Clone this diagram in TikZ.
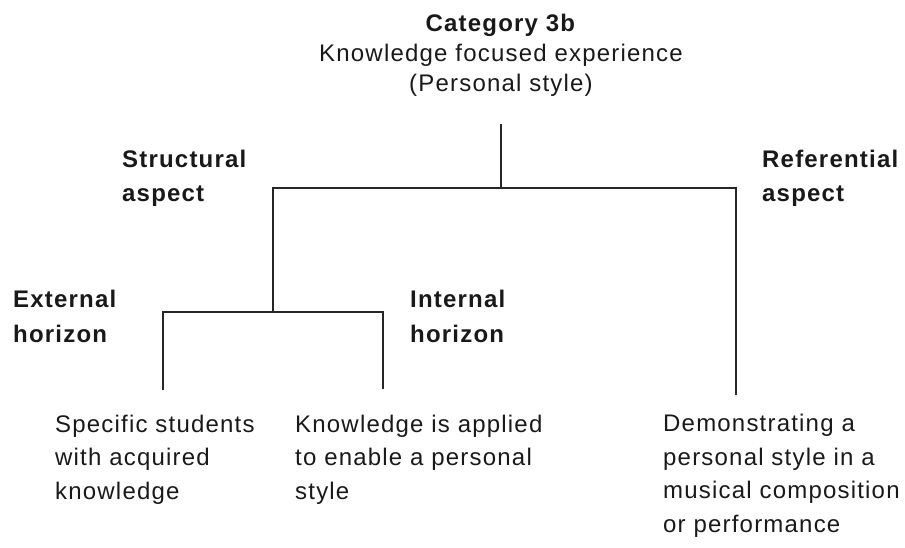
\documentclass[tikz,border=0pt]{standalone}
\usepackage{fontspec}
\setmainfont[LetterSpace=5]{Liberation Sans}
\begin{document}
\begin{tikzpicture}[x=1pt,y=-1pt,
  txt/.style={anchor=base west,inner sep=0pt,align=left,font=\fontsize{24}{33.4}\selectfont,text=black!90},
  bld/.style={txt,font=\fontsize{24}{34.5}\selectfont\bfseries},
  conn/.style={draw=black!85,line width=1.6pt}]
\useasboundingbox (0,0) rectangle (905,548);
% title
\node[inner sep=0pt,anchor=base,align=center,font=\fontsize{24}{30}\selectfont,text=black!90] (title) at (501,92)
  {\textbf{Category 3b}\\Knowledge focused experience\\(Personal style)};
% aspect labels
\node[bld] (struct) at (122,202) {Structural\\aspect};
\node[bld] (refer) at (762,202) {Referential\\aspect};
\node[bld] (ext) at (13,342) {External\\horizon};
\node[bld] (int) at (410,342) {Internal\\horizon};
% leaves
\node[txt] (leafA) at (55,499) {Specific students\\with acquired\\knowledge};
\node[txt] (leafB) at (295,499) {Knowledge is applied\\to enable a personal\\style};
\node[txt] (leafC) at (663,532) {Demonstrating a\\personal style in a\\musical composition\\or performance};
% junction coordinates
\coordinate (t0) at (501,124);
\coordinate (t1) at (501,188);
\coordinate (s0) at (273,188);
\coordinate (r0) at (736,188);
\coordinate (r1) at (736,395);
\coordinate (s1) at (273,312);
\coordinate (e0) at (163,312);
\coordinate (e1) at (163,390);
\coordinate (i0) at (383,312);
\coordinate (i1) at (383,389);
% connectors
\draw[conn] (t0) -- (t1);
\draw[conn] (s1) -- (s0) -- (r0) -- (r1);
\draw[conn] (e1) -- (e0) -- (i0) -- (i1);
\end{tikzpicture}
\end{document}
